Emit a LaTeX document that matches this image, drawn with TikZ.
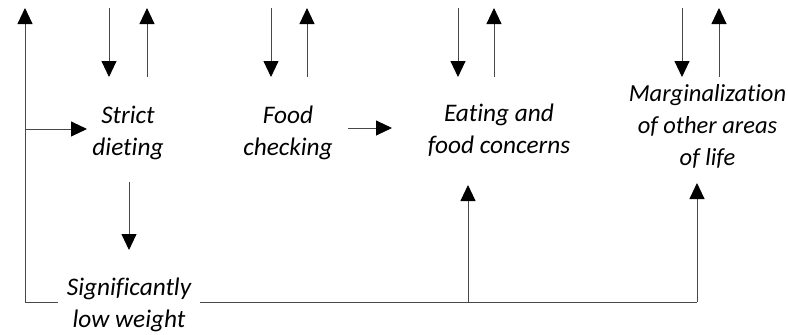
\documentclass[tikz,border=0pt]{standalone}
\usepackage{fontspec}
\setmainfont[Ligatures={NoCommon}]{Carlito}
\usetikzlibrary{arrows.meta}
\tikzset{
  lbl/.style={align=center, inner sep=0pt, font=\itshape\fontsize{25.3}{32}\selectfont},
  lblsm/.style={lbl, font=\itshape\fontsize{24.5}{32}\selectfont},
  conn/.style={draw=black!72, line width=0.9pt},
  arr/.style={conn, -{Triangle[width=15pt,length=16pt,fill=black,color=black]}}
}
\begin{document}
\begin{tikzpicture}[x=1pt,y=-1pt]
\useasboundingbox (0,0) rectangle (788,335);
% labels
\node[lbl] (sd) at (128,133) {Strict\\dieting};
\node[lbl] (fc) at (288,133) {Food\\checking};
\node[lbl] (ef) at (499,130) {Eating and\\food concerns};
\node[lblsm] (mg) at (707.5,126) {Marginalization\\of other areas\\of life};
\node[lbl] (slw) at (129,305) {Significantly\\low weight};
% free ends
\coordinate (Lbot) at (25,302);
\coordinate (Ltop) at (25,8);
\coordinate (Lmid) at (25,129);
\coordinate (sdin) at (87,129);
\coordinate (sdDa) at (109,8);  \coordinate (sdDb) at (109,77);
\coordinate (sdUa) at (147,77); \coordinate (sdUb) at (147,8);
\coordinate (fcDa) at (271,8);  \coordinate (fcDb) at (271,77);
\coordinate (fcUa) at (307,77); \coordinate (fcUb) at (307,8);
\coordinate (efDa) at (458,8);  \coordinate (efDb) at (458,77);
\coordinate (efUa) at (494,77); \coordinate (efUb) at (494,8);
\coordinate (mgDa) at (682,8);  \coordinate (mgDb) at (682,77);
\coordinate (mgUa) at (719,77); \coordinate (mgUb) at (719,8);
\coordinate (fcout) at (348,128);
\coordinate (efin) at (392,128);
\coordinate (sdDown) at (129,182);
\coordinate (slwIn) at (129,250);
\coordinate (efBot) at (468,302);
\coordinate (efUp) at (468,185);
\coordinate (mgBot) at (697,302);
\coordinate (mgUp) at (697,183);
\coordinate (gapL) at (58,302);
\coordinate (gapR) at (200,302);
% connectors
\draw[arr] (Lbot) -- (Ltop);
\draw[arr] (Lmid) -- (sdin);
\draw[conn] (Lbot) -- (gapL);
\draw[conn] (gapR) -- (mgBot);
\draw[arr] (sdDa) -- (sdDb);
\draw[arr] (sdUa) -- (sdUb);
\draw[arr] (fcDa) -- (fcDb);
\draw[arr] (fcUa) -- (fcUb);
\draw[arr] (efDa) -- (efDb);
\draw[arr] (efUa) -- (efUb);
\draw[arr] (mgDa) -- (mgDb);
\draw[arr] (mgUa) -- (mgUb);
\draw[arr] (fcout) -- (efin);
\draw[arr] (sdDown) -- (slwIn);
\draw[arr] (efBot) -- (efUp);
\draw[arr] (mgBot) -- (mgUp);
\end{tikzpicture}
\end{document}
